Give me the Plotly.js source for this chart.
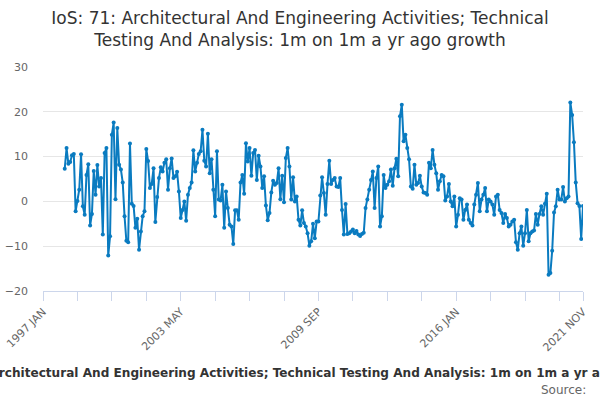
<!DOCTYPE html>
<html>
<head>
<meta charset="utf-8">
<script src="https://cdn.plot.ly/plotly-3.0.1.min.js"></script>
<style>
body { margin: 0; }
#myDiv { width: 600px; height: 400px; }
</style>
</head>
<body>
<div id="myDiv"></div>
<script>
// months run 1997 JAN .. 2021 NOV, growth starts 1998 JAN
var monthNames = ['JAN', 'FEB', 'MAR', 'APR', 'MAY', 'JUN', 'JUL', 'AUG', 'SEP', 'OCT', 'NOV', 'DEC'];
var firstYear = 1997;
var lastYear = 2021;
var lastMonth = 11;
var growthStart = '1998 JAN';

var growth = [
  7.3, 11.9, 8.4, 8.8, 10.3, 10.6, -2.2, 0.1, 2.6, 10.5, -1.1, -3.0,
  5.9, 8.3, -5.4, -2.8, 6.8, 1.5, 8.1, 3.3, 5.2, -7.4, 10.8, 11.9,
  -12.1, -7.8, 14.9, 17.6, 0.5, 16.4, 8.2, 7.1, 4.2, -3.3, -8.8, -9.1,
  12.9, -0.5, -1.0, -5.9, -3.9, -10.8, -6.7, -3.3, -2.2, 11.7, 9.0, 3.0,
  3.9, 7.4, -4.6, 1.0, 5.2, 7.6, 6.7, 8.6, 9.4, 2.6, 7.4, 9.6,
  5.2, 5.6, 6.6, 2.2, -3.7, -1.9, 0.0, -4.3, 1.5, 3.0, 4.2, 11.4,
  6.7, 8.6, 10.6, 11.2, 16.0, 9.1, 7.8, 15.1, 6.3, 9.4, 2.6, -3.3,
  11.2, 0.4, 0.2, 3.7, -5.9, 2.2, -1.5, -5.2, -5.6, -9.5, -2.0, -2.0,
  -4.1, 4.2, 5.9, 1.7, 13.0, 8.9, 11.9, 5.7, 10.8, 11.5, 4.8, 10.2,
  7.8, 3.0, 5.6, -0.9, -4.2, -2.6, 2.0, 4.6, 3.7, 4.1, 7.4, 0.5,
  5.7, -0.2, 9.7, 11.9, 7.8, 0.4, 5.4, 0.0, 1.1, -4.1, -5.4, -2.0,
  -4.8, -5.6, -7.1, -9.9, -8.9, -5.0, -8.2, -4.5, -4.5, 1.3, 5.4, 1.9,
  -3.0, 3.9, 9.1, 3.9, 4.8, 5.2, 3.3, 3.2, 5.2, -1.9, -7.4, -0.6,
  -7.3, -7.1, -6.7, -6.3, -7.1, -6.6, -7.4, -7.7, -7.3, -7.0, -1.5, 0.4,
  2.6, 4.8, 6.7, -1.5, 5.2, 7.8, -5.6, -3.3, 5.9, 3.0, 3.7, 4.5,
  7.1, 3.5, 7.4, 9.5, 5.6, 19.0, 21.6, 13.4, 14.9, 11.9, 9.4, 3.3,
  2.8, 8.2, 3.7, 4.1, 5.7, 3.3, 2.0, 1.9, 1.5, 8.6, 7.4, 11.5,
  8.2, 6.3, 2.6, 4.5, 5.9, 5.6, 0.2, 1.1, 3.9, 0.0, -1.1, 1.1,
  -5.6, -3.0, 0.7, 0.4, -4.1, -1.9, -0.7, -4.1, -4.8, -5.4, -0.7, 1.5,
  4.1, -2.2, 0.4, 1.5, 3.0, -2.2, 0.4, 0.0, -0.7, -3.0, 1.1, 1.5,
  -1.9, -2.6, -4.8, -2.8, -3.7, -5.6, -5.2, -4.5, -4.1, -9.1, -10.8, -7.1,
  -5.6, -9.9, -7.1, -1.9, -8.9, -7.1, -6.7, -6.5, -2.8, -5.2, -2.8, -1.1,
  -3.0, -0.5, 1.7, -16.4, -16.0, -11.0, -2.5, -1.1, 2.6, 0.4, 0.4, 3.2,
  0.0, 0.7, 1.1, 22.1, 19.3, 13.2, 4.2, -0.4, -1.0, -8.4, -1.0
];

var labelledTicks = ['1997 JAN', '2003 MAY', '2009 SEP', '2016 JAN', '2021 NOV'];
var tickStep = 19;

var titleText = 'IoS: 71: Architectural And Engineering Activities; Technical Testing And Analysis: 1m on 1m a yr ago growth';

// build the month categories
var months = [];
for (var y = firstYear; y <= lastYear; y++) {
  for (var m = 0; m < 12; m++) {
    if (y == lastYear && m >= lastMonth) break;
    months.push(y + ' ' + monthNames[m]);
  }
}
var offset = months.indexOf(growthStart);
var yvals = months.map(function (d, i) {
  return i < offset ? null : growth[i - offset];
});

var tickvals = [];
for (var i = 0; i < months.length; i += tickStep) tickvals.push(months[i]);
if (tickvals[tickvals.length - 1] !== months[months.length - 1]) tickvals.push(months[months.length - 1]);
var ticktext = tickvals.map(function (t) {
  return labelledTicks.indexOf(t) >= 0 ? t : '';
});

var trace1 = {
  x: months,
  y: yvals,
  type: 'scatter',
  mode: 'lines+markers',
  line: {color: '#0a7bc0', width: 2},
  marker: {color: '#0a7bc0', size: 4},
  connectgaps: false,
  hoverinfo: 'none'
};

var layout = {
  width: 600,
  height: 400,
  margin: {l: 43, r: 17, t: 67, b: 109},
  paper_bgcolor: '#ffffff',
  plot_bgcolor: '#ffffff',
  font: {family: 'DejaVu Sans, Verdana, sans-serif', color: '#666666'},
  showlegend: false,
  title: {
    text: 'IoS: 71: Architectural And Engineering Activities; Technical<br>Testing And Analysis: 1m on 1m a yr ago growth',
    x: 0.5,
    xref: 'container',
    xanchor: 'center',
    y: 0.94,
    yref: 'container',
    yanchor: 'top',
    font: {size: 17, color: '#333333'}
  },
  xaxis: {
    type: 'category',
    range: [0, months.length - 1],
    showgrid: false,
    zeroline: false,
    showline: true,
    linecolor: '#ccd6eb',
    linewidth: 1,
    ticks: 'outside',
    ticklen: 9,
    tickcolor: '#ccd6eb',
    tickmode: 'array',
    tickvals: tickvals,
    ticktext: ticktext,
    tickangle: -45,
    tickfont: {size: 11, color: '#666666'}
  },
  yaxis: {
    range: [-20, 30],
    dtick: 10,
    showgrid: true,
    gridcolor: '#e6e6e6',
    zeroline: false,
    showline: false,
    ticks: '',
    ticklabelstandoff: 14,
    tickfont: {size: 11, color: '#666666'}
  },
  annotations: [
    {
      text: '<b>' + titleText + '</b>',
      xref: 'paper', yref: 'paper',
      x: 0.479, y: -0.366,
      xanchor: 'center', yanchor: 'middle',
      showarrow: false,
      font: {size: 12.1, color: '#333333'}
    },
    {
      text: 'Source:',
      xref: 'paper', yref: 'paper',
      x: 1.009, y: -0.442,
      xanchor: 'right', yanchor: 'middle',
      showarrow: false,
      font: {size: 12, color: '#666666'}
    }
  ]
};

Plotly.newPlot('myDiv', [trace1], layout, {displayModeBar: false, staticPlot: true});
</script>
</body>
</html>
